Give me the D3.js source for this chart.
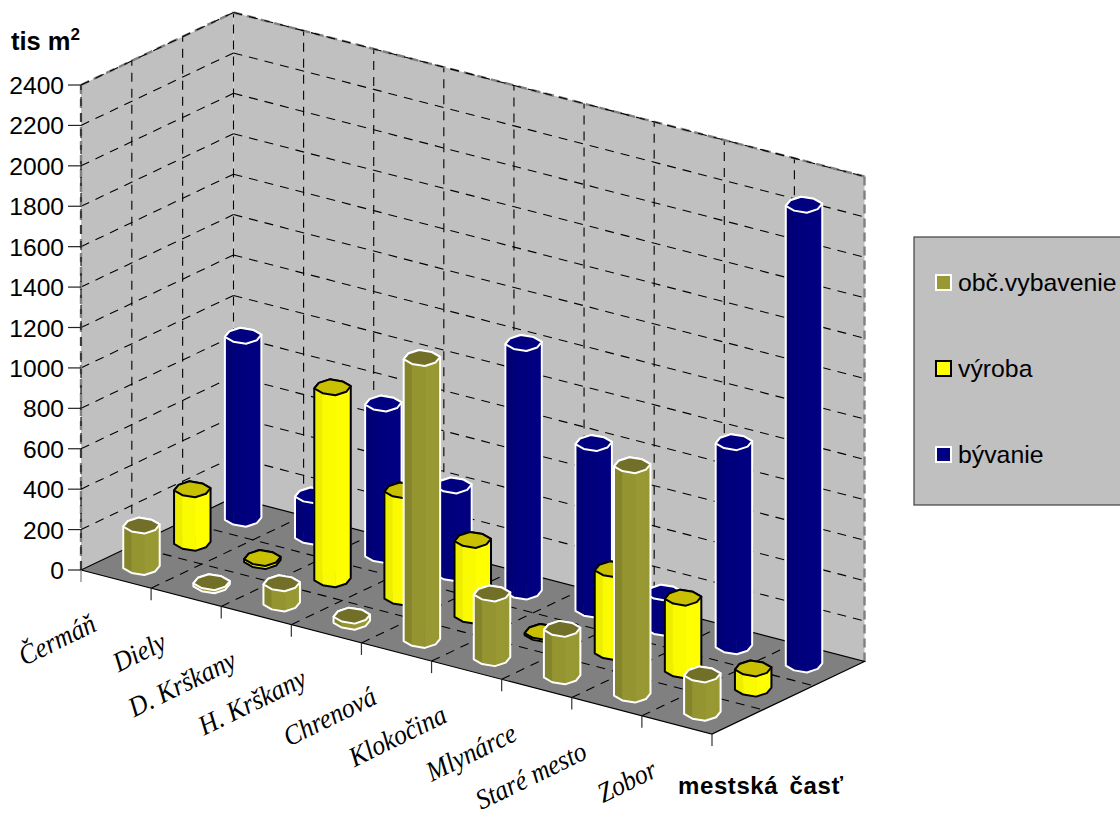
<!DOCTYPE html>
<html>
<head>
<meta charset="utf-8">
<script src="https://cdn.jsdelivr.net/npm/d3@7/dist/d3.min.js"></script>
<style>
html,body{margin:0;padding:0;background:#fff}
svg{display:block}
</style>
</head>
<body>
<svg id="chart" width="1120" height="818"></svg>
<script>
// Built-up area per city district, thousands of m2
const categories = ["Čermáň","Diely","D. Krškany","H. Krškany","Chrenová","Klokočina","Mlynárce","Staré mesto","Zobor"];
const seriesNames = ["obč.vybavenie","výroba","bývanie"];
const vybavenie = [205,15,100,30,1395,320,235,1135,190];
const vyroba = [265,15,950,530,375,10,410,360,100];
const byvanie = [905,205,750,435,1230,825,175,1010,2275];
const valueTicks = [0,200,400,600,800,1000,1200,1400,1600,1800,2000,2200,2400];

const palette = {
  "obč.vybavenie": {side:[126,126,40], lit:[153,153,51], top:"#716f28", stroke:"#ffffff", key:"#999933"},
  "výroba":        {side:[232,232,0],  lit:[255,255,0],  top:"#c8c000", stroke:"#000000", key:"#ffff00"},
  "bývanie":       {side:[0,0,112],    lit:[0,0,128],    top:"#000080", stroke:"#ffffff", key:"#000080"}
};
const seriesValues = {"obč.vybavenie":vybavenie,"výroba":vyroba,"bývanie":byvanie};

// Oblique projection of the box: origin is the front-left floor corner
const origin = [81,570], alongCat = [631,164], alongDepth = [152.5,-72.5];
const catScale = d3.scaleBand().domain(categories).range([0,1]);
const depthScale = d3.scaleBand().domain(seriesNames).range([0,1]);
const heightScale = d3.scaleLinear().domain([0,2400]).range([0,485]);
const project = (c,d,v=0) => [
  origin[0]+c*alongCat[0]+d*alongDepth[0],
  origin[1]+c*alongCat[1]+d*alongDepth[1]-heightScale(v)
];

const svg = d3.select("#chart");
const line = d3.line();
const closed = pts => line(pts)+"Z";
const maxV = 2400;

// Walls and floor
svg.append("path").attr("d",closed([project(0,0,0),project(0,1,0),project(0,1,maxV),project(0,0,maxV)])).attr("fill","#c0c0c0");
svg.append("path").attr("d",closed([project(0,1,0),project(1,1,0),project(1,1,maxV),project(0,1,maxV)])).attr("fill","#c0c0c0");
svg.append("path").attr("d",closed([project(0,0,0),project(1,0,0),project(1,1,0),project(0,1,0)])).attr("fill","#808080");

const dashed = (a,b) => svg.append("path").attr("d",line([a,b])).attr("fill","none")
  .attr("stroke","#000").attr("stroke-width",1.1).attr("stroke-dasharray","9 7");

// Grid on both walls and on the floor
const gridFrac = d3.range(0,10).map(i=>i/9);
const depthFrac = d3.range(0,4).map(i=>i/3);
valueTicks.slice(1,-1).forEach(v=>{
  dashed(project(0,0,v),project(0,1,v));
  dashed(project(0,1,v),project(1,1,v));
});
depthFrac.slice(1,-1).forEach(d=>dashed(project(0,d,0),project(0,d,maxV)));
gridFrac.slice(0,-1).forEach(c=>dashed(project(c,1,0),project(c,1,maxV)));
gridFrac.slice(1,-1).forEach(c=>dashed(project(c,0,0),project(c,1,0)));
depthFrac.slice(1,-1).forEach(d=>dashed(project(0,d,0),project(1,d,0)));

// Grey dashed frame of the walls, with black dashes over the edges that carry them
const frame = [
  [project(0,0,0),project(0,0,maxV),true],
  [project(0,0,maxV),project(0,1,maxV),true],
  [project(0,1,maxV),project(1,1,maxV),true],
  [project(1,1,maxV),project(1,1,0),false]
];
frame.forEach(([a,b,overlay])=>{
  svg.append("path").attr("d",line([a,b])).attr("stroke","#808080").attr("stroke-width",2.4).attr("stroke-dasharray","9 5").attr("fill","none");
  if(overlay) dashed(a,b);
});

// Floor outline
svg.append("path").attr("d",closed([project(0,0,0),project(1,0,0),project(1,1,0),project(0,1,0)]))
  .attr("fill","none").attr("stroke","#000").attr("stroke-width",1.2);

// Value axis
const tickG = svg.append("g");
valueTicks.forEach(v=>{
  const p = project(0,0,v);
  tickG.append("line").attr("x1",p[0]-13).attr("x2",p[0]).attr("y1",p[1]).attr("y2",p[1]).attr("stroke","#222").attr("stroke-width",1.2);
  tickG.append("text").attr("x",p[0]-17).attr("y",p[1]+9).attr("text-anchor","end")
    .attr("font-family","'Liberation Sans',Arial,sans-serif").attr("font-size",24.6).attr("fill","#000").text(v);
});

// Category ticks along the front floor edge
gridFrac.forEach(c=>{
  const p = project(c,0,0);
  svg.append("line").attr("x1",p[0]).attr("x2",p[0]).attr("y1",p[1]).attr("y2",p[1]+12).attr("stroke",c===0?"#808080":"#333").attr("stroke-width",1.2);
});

// Category labels, end-anchored under each band
categories.forEach(name=>{
  const p = project(catScale(name)+catScale.bandwidth()/2,0,0);
  svg.append("text")
    .attr("transform",`translate(${p[0]-18},${p[1]+51}) rotate(-26) scale(1.02,1.12)`)
    .attr("text-anchor","end")
    .attr("font-family","'Liberation Serif','Times New Roman',serif")
    .attr("font-style","italic").attr("font-size",25).attr("fill","#000").text(name);
});

// Column with a faceted side, a silhouette outline and a rounded-square top cap
const radius = 0.195, facets = 8, squareness = 2.7, capStretch = 1.25;
function drawCylinder(series, cat, value){
  const st = palette[series];
  const cc = catScale(cat)+catScale.bandwidth()/2;
  const dc = depthScale(series)+depthScale.bandwidth()/2;
  const ring = v => {
    const mid = project(cc,dc,v);
    return d3.range(facets).map(k=>{
      const t = k/facets*2*Math.PI, cs = Math.cos(t), sn = Math.sin(t);
      const r = radius*Math.pow(Math.pow(Math.abs(cs),squareness)+Math.pow(Math.abs(sn),squareness),-1/squareness);
      const p = project(cc+r*cs/9, dc+r*sn/3, v);
      return [p[0], mid[1]+(p[1]-mid[1])*capStretch];
    });
  };
  const bottom = ring(0), top = ring(value);
  const g = svg.append("g");
  const minX = d3.min(bottom,p=>p[0]), maxX = d3.max(bottom,p=>p[0]);
  const faces = d3.range(facets).map(k=>{
    const n=(k+1)%facets;
    return {pts:[bottom[k],bottom[n],top[n],top[k]], mx:(bottom[k][0]+bottom[n][0])/2, my:(bottom[k][1]+bottom[n][1])/2};
  }).sort((a,b)=>a.my-b.my);
  faces.forEach(f=>{
    const u = Math.min(1,(f.mx-minX)/(maxX-minX)*2);
    const col = d3.rgb(...d3.range(3).map(i=>st.side[i]+(st.lit[i]-st.side[i])*u));
    g.append("path").attr("d",closed(f.pts)).attr("fill",col).attr("stroke",col).attr("stroke-width",0.5);
  });
  g.append("path").attr("d",closed(d3.polygonHull(bottom.concat(top))))
    .attr("fill","none").attr("stroke",st.stroke).attr("stroke-width",2).attr("stroke-linejoin","round");
  g.append("path").attr("d",closed(top)).attr("fill",st.top)
    .attr("stroke",st.stroke).attr("stroke-width",2).attr("stroke-linejoin","round");
}

// Back row first so nearer columns cover farther ones
seriesNames.slice().reverse().forEach(s=>{
  categories.forEach((c,i)=>drawCylinder(s,c,seriesValues[s][i]));
});

// Axis titles
const sans = "'Liberation Sans',Arial,sans-serif";
const yTitle = svg.append("text").attr("x",11).attr("y",50).attr("font-family",sans).attr("font-weight","bold").attr("font-size",25.5).attr("fill","#000");
yTitle.append("tspan").text("tis m");
yTitle.append("tspan").attr("dy",-10).attr("font-size",17).text("2");
svg.append("text").attr("x",678).attr("y",794).attr("font-family",sans).attr("font-weight","bold").attr("font-size",24)
  .attr("word-spacing",4).attr("letter-spacing",0.6).attr("fill","#000").text("mestská časť");

// Legend panel runs off the right side of the page
svg.append("rect").attr("x",914).attr("y",237).attr("width",212).attr("height",268)
  .attr("fill","#c0c0c0").attr("stroke","#404040").attr("stroke-width",1.2);
const legendY = d3.scalePoint().domain(seriesNames).range([283,455]);
seriesNames.forEach(s=>{
  const st = palette[s], y = legendY(s);
  svg.append("rect").attr("x",936).attr("y",y-8).attr("width",15).attr("height",15)
    .attr("fill",st.key).attr("stroke",st.stroke).attr("stroke-width",2);
  svg.append("text").attr("x",958).attr("y",y+8).attr("font-family",sans).attr("font-size",24.8).attr("fill","#000").text(s);
});
</script>
</body>
</html>
